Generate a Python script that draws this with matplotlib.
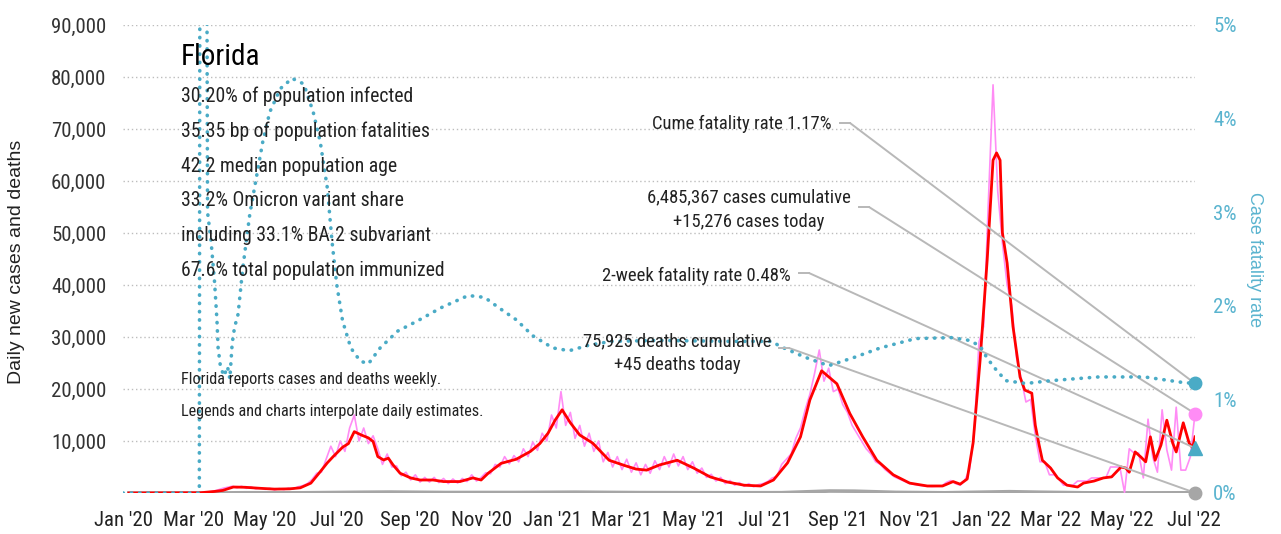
#!/usr/bin/env python3
"""Florida: daily new cases, deaths and case fatality rate, Jan 2020 - Jul 2022.

Left axis: daily cases (pink, reported) with the 7-day average (red) and
daily deaths (gray). Right axis: case fatality rate (blue dotted).
"""
import matplotlib
matplotlib.use("Agg")
import matplotlib.pyplot as plt
import matplotlib.dates as mdates
import pandas as pd
from matplotlib import font_manager
from matplotlib.font_manager import FontProperties
from matplotlib.lines import Line2D
from matplotlib.ticker import FuncFormatter

W, H, DPI = 1281, 534, 100

# 7-day average of new cases (red)
AVG_DATES = [
    "2020-01-06", "2020-03-07", "2020-03-19", "2020-03-26", "2020-04-04",
    "2020-04-14", "2020-04-27", "2020-05-09", "2020-05-22", "2020-05-31",
    "2020-06-09", "2020-06-17", "2020-06-23", "2020-06-28", "2020-07-06",
    "2020-07-11", "2020-07-16", "2020-07-22", "2020-07-28", "2020-08-01",
    "2020-08-05", "2020-08-10", "2020-08-14", "2020-08-18", "2020-08-24",
    "2020-09-02", "2020-09-10", "2020-09-21", "2020-09-30", "2020-10-14",
    "2020-10-25", "2020-11-01", "2020-11-07", "2020-11-18", "2020-12-01",
    "2020-12-13", "2020-12-21", "2020-12-28", "2021-01-03", "2021-01-09",
    "2021-01-16", "2021-01-24", "2021-02-04", "2021-02-18", "2021-03-03",
    "2021-03-13", "2021-03-22", "2021-04-02", "2021-04-17", "2021-05-01",
    "2021-05-15", "2021-05-30", "2021-06-13", "2021-06-27", "2021-07-08",
    "2021-07-20", "2021-07-31", "2021-08-08", "2021-08-18", "2021-08-31",
    "2021-09-11", "2021-09-22", "2021-10-04", "2021-10-18", "2021-11-01",
    "2021-11-16", "2021-11-29", "2021-12-08", "2021-12-14", "2021-12-20",
    "2021-12-25", "2021-12-31", "2022-01-06", "2022-01-11", "2022-01-14",
    "2022-01-17", "2022-01-19", "2022-01-23", "2022-01-28", "2022-02-03",
    "2022-02-07", "2022-02-13", "2022-02-16", "2022-02-19", "2022-02-22",
    "2022-03-01", "2022-03-07", "2022-03-15", "2022-03-24", "2022-03-29",
    "2022-04-07", "2022-04-15", "2022-04-22", "2022-04-30", "2022-05-04",
    "2022-05-07", "2022-05-12", "2022-05-17", "2022-05-21", "2022-05-25",
    "2022-05-29", "2022-06-03", "2022-06-08", "2022-06-13", "2022-06-16",
    "2022-06-22", "2022-06-27", "2022-06-30", "2022-07-02",
]
AVG_CASES = [
    0, 50, 300, 500, 1150,
    1100, 900, 750, 800, 1000,
    1900, 4100, 5800, 7000, 8800,
    9500, 11800, 11150, 10600, 9900,
    7000, 6350, 6700, 5400, 3800,
    2900, 2500, 2500, 2200, 2200,
    2900, 2500, 3800, 5700, 6500,
    8000, 9500, 11500, 14000, 16000,
    13500, 11150, 9600, 6300, 5300,
    4600, 4400, 5400, 6300, 4800,
    3100, 2100, 1500, 1350, 2500,
    5800, 10800, 17900, 23500, 21000,
    15300, 10800, 6300, 3500, 1900,
    1350, 1350, 2200, 1700, 2700,
    9600, 25600, 44800, 64000, 65400,
    64000, 50000, 44200, 32000, 22300,
    19800, 19200, 13000, 9500, 6300,
    4800, 2900, 1500, 1150, 1900,
    2300, 2900, 3100, 5000, 4800,
    4000, 7900, 6900, 6000, 10800,
    6300, 9200, 14000, 9600, 7900,
    13500, 9600, 8700, 10800,
]

# daily reported cases (pink), one value every 4 days up to the last report
DAILY_END = "2022-07-02"
DAILY_CASES = [
    0, 30, 100, 200, 350, 600, 900, 1100,                     # Mar '20
    1300, 1000, 1300, 900, 1200, 800, 1000,                   # Apr
    700, 900, 600, 850, 650, 950, 750, 1200,                  # May
    1400, 1800, 2600, 3800, 4000, 6500, 9000,                 # Jun
    7000, 10000, 8000, 12500, 15000, 10000, 12500, 9500,      # Jul
    11000, 8500, 5500, 7500, 5000, 5200, 3300, 4000,          # Aug
    2500, 3500, 2100, 3000, 2100, 3000, 2000,                 # Sep
    2800, 1800, 2700, 1900, 2800, 2200, 3500, 2300,           # Oct
    3000, 3900, 3700, 5500, 5000, 7000, 5600,                 # Nov
    7200, 6000, 8500, 7000, 9800, 8200, 11500, 10000,         # Dec
    15000, 12500, 19500, 13000, 15500, 10500, 13000, 9000,    # Jan '21
    11500, 8000, 10000, 6000, 7800, 5000, 7000,               # Feb
    4500, 6500, 4000, 5800, 3500, 5500, 3800, 6200,           # Mar
    4500, 7000, 5000, 7500, 5200, 7000, 4500, 6000,           # Apr
    3800, 4800, 3000, 3600, 2300, 3000, 1800,                 # May
    2400, 1500, 2000, 1300, 1800, 1200, 1600, 1800,           # Jun
    2200, 2900, 3200, 5500, 6500, 7500, 10500, 12500,         # Jul
    16000, 19000, 23000, 27500, 21500, 24000, 19500,          # Aug
    20000, 17000, 15500, 13000, 11500, 10000, 8500, 7500,     # Sep
    6000, 5500, 4500, 3800, 3100, 2700, 2300, 1900,           # Oct
    1700, 1500, 1400, 1300, 1250, 1300, 1300,                 # Nov
    2000, 2400, 1800, 1500, 2500, 4500, 12000, 29000,         # Dec
    32000, 56000, 78500, 58000, 48000, 40000, 36000, 26000,   # Jan '22
    22000, 17500, 18000, 11000, 6000, 6000, 3500,             # Feb
    3500, 2700, 1500, 1500, 1500, 2300, 2300, 2300,           # Mar
    2900, 2900, 2900, 2900, 5000, 5000, 5000, 100,            # Apr
    8500, 7700, 7700, 2900, 14200, 6900, 4000,                # May
    16000, 8300, 4400, 16500, 4400, 4400, 6900, 15276,        # Jun
]

# daily deaths (gray)
DEATH_DATES = [
    "2020-01-06", "2020-03-15", "2020-04-15", "2020-06-01", "2020-07-25",
    "2020-08-15", "2020-10-01", "2020-12-01", "2021-01-20", "2021-03-15",
    "2021-06-01", "2021-07-15", "2021-08-25", "2021-09-15", "2021-10-20",
    "2021-12-01", "2022-01-25", "2022-02-20", "2022-03-30", "2022-05-15",
    "2022-07-02",
]
DEATHS = [
    0, 5, 50, 40, 150,
    180, 100, 100, 160, 80,
    50, 60, 380, 350, 120,
    40, 250, 150, 40, 20,
    45,
]

# case fatality rate, % (blue dotted, right axis)
CFR_DATES = [
    "2020-01-01", "2020-03-06", "2020-03-07", "2020-03-11", "2020-03-13",
    "2020-03-16", "2020-03-19", "2020-03-21", "2020-03-22", "2020-03-24",
    "2020-03-27", "2020-03-30", "2020-04-01", "2020-04-03", "2020-04-05",
    "2020-04-08", "2020-04-12", "2020-04-18", "2020-04-24", "2020-04-29",
    "2020-05-05", "2020-05-14", "2020-05-24", "2020-06-03", "2020-06-11",
    "2020-06-17", "2020-06-23", "2020-06-27", "2020-07-01", "2020-07-06",
    "2020-07-13", "2020-07-21", "2020-07-28", "2020-08-07", "2020-08-22",
    "2020-09-08", "2020-09-28", "2020-10-21", "2020-11-04", "2020-11-16",
    "2020-12-01", "2020-12-15", "2021-01-01", "2021-01-15", "2021-02-01",
    "2021-02-20", "2021-04-01", "2021-06-01", "2021-07-07", "2021-07-13",
    "2021-08-04", "2021-08-24", "2021-09-15", "2021-10-07", "2021-11-06",
    "2021-12-07", "2021-12-22", "2021-12-31", "2022-01-06", "2022-01-14",
    "2022-01-22", "2022-02-08", "2022-03-01", "2022-04-11", "2022-05-20",
    "2022-06-22", "2022-07-02",
]
CFR_PCT = [
    0.0, 0.0, 12.0, 12.0, 3.0,
    2.69, 2.25, 1.85, 1.55, 1.35,
    1.25, 1.35, 1.22, 1.6, 1.77,
    1.91, 2.4, 2.98, 3.4, 3.75,
    4.07, 4.32, 4.43, 4.37, 4.07,
    3.75, 3.26, 2.69, 2.23, 1.84,
    1.55, 1.41, 1.38, 1.55, 1.73,
    1.84, 1.98, 2.11, 2.09, 1.98,
    1.85, 1.68, 1.55, 1.52, 1.58,
    1.62, 1.63, 1.62, 1.62, 1.57,
    1.45, 1.36, 1.45, 1.55, 1.65,
    1.66, 1.63, 1.57, 1.44, 1.31,
    1.2, 1.17, 1.2, 1.24, 1.24,
    1.18, 1.17,
]

# latest readings shown in the callouts
CUME_CFR = 1.17
TWO_WEEK_CFR = 0.48
CASES_CUMULATIVE = 6485367
TODAY_CASES = 15276
DEATHS_CUMULATIVE = 75925
TODAY_DEATHS = 45

STATE = "Florida"
FACTS = [
    "30.20% of population infected",
    "35.35 bp of population fatalities",
    "42.2 median population age",
    "33.2% Omicron variant share",
    "including 33.1% BA.2 subvariant",
    "67.6% total population immunized",
]
NOTES = [
    "Florida reports cases and deaths weekly.",
    "Legends and charts interpolate daily estimates.",
]

RED = "#ff0000"
PINK = "#ff8cf5"
GRAY = "#a6a6a6"
BLUE = "#4aabc6"
BLUE_TXT = "#5ab4cf"
LEADER = "#b8b8b8"
INK = "#222222"


def narrow_font():
    """Find a condensed regular sans face; fall back to DejaVu Sans."""
    faces = font_manager.fontManager.ttflist
    squeezed = ("condensed", "semi-condensed", "extra-condensed", "ultra-condensed")
    prefs = [
        ("Liberation Sans Narrow", None), ("Roboto Condensed", None),
        ("Open Sans Condensed", None), ("Noto Sans", "condensed"),
        ("DejaVu Sans", "condensed"), ("Open Sans", "condensed"),
        ("Roboto", "condensed"), ("Noto Sans", "semi-condensed"),
        ("DejaVu Sans", "semi-condensed"),
    ]
    for name, stretch in prefs:
        for f in faces:
            if f.name != name or f.style != "normal":
                continue
            if f.weight not in (400, "normal", "regular", "book"):
                continue
            if stretch is None or f.stretch == stretch:
                return FontProperties(fname=f.fname), True
    for f in faces:
        if f.stretch in squeezed and f.style == "normal" and f.weight in (400, "normal"):
            return FontProperties(fname=f.fname), True
    return FontProperties(family="DejaVu Sans"), False


NARROW, HAVE_NARROW = narrow_font()
PLAIN = FontProperties(family=["Liberation Sans", "DejaVu Sans"])


def fxy(x, y):
    """Pixel position (from top-left) -> figure fraction."""
    return x / W, 1 - y / H


def ftext(fig, x, y, s, size, **kw):
    fp = NARROW.copy()
    fp.set_size(size if HAVE_NARROW else size * 0.8)
    return fig.text(*fxy(x, y), s, fontproperties=fp, **kw)


def leader(fig, ax, xy, start, stub=10):
    """Short horizontal stub from the label, then a straight line to the marker."""
    x0, y0 = start
    fig.add_artist(Line2D([x0 / W, (x0 + stub) / W], [1 - y0 / H] * 2,
                          color=LEADER, lw=1.4))
    ax.annotate("", xy=xy, xycoords="data",
                xytext=(x0 + stub, H - y0), textcoords="figure pixels",
                annotation_clip=False,
                arrowprops=dict(arrowstyle="-", color=LEADER, lw=1.4,
                                shrinkA=0, shrinkB=0))


def main() -> None:
    avg_dates = pd.to_datetime(AVG_DATES)
    daily_dates = pd.date_range(end=DAILY_END, periods=len(DAILY_CASES), freq="4D")
    death_dates = pd.to_datetime(DEATH_DATES)
    cfr_dates = pd.to_datetime(CFR_DATES)
    last = pd.Timestamp(DAILY_END)
    xlast = mdates.date2num(last)

    fig = plt.figure(figsize=(W / DPI, H / DPI), dpi=DPI)
    ax = fig.add_axes([123 / W, 41 / H, 1072 / W, 468 / H])
    ax2 = ax.twinx()

    ax.plot(death_dates, DEATHS, color=GRAY, lw=2.6, zorder=2)
    ax.plot(daily_dates, DAILY_CASES, color=PINK, lw=1.2, zorder=3)
    ax.plot(avg_dates, AVG_CASES, color=RED, lw=2.0, zorder=4)
    ax2.plot(cfr_dates, CFR_PCT, color=BLUE, lw=2.6,
             linestyle=(0, (0.1, 2.2)), dash_capstyle="round", zorder=5)

    ax.set_xlim(mdates.date2num(pd.Timestamp("2020-01-01")), xlast)
    ax.set_ylim(0, 90000)
    ax2.set_ylim(0, 5)

    ax.set_yticks(range(10000, 90001, 10000))
    ax.yaxis.set_major_formatter(FuncFormatter(lambda v, _: f"{v:,.0f}"))
    ax2.set_yticks(range(0, 6))
    ax2.yaxis.set_major_formatter(FuncFormatter(lambda v, _: f"{v:.0f}%"))
    ax.xaxis.set_major_locator(mdates.MonthLocator(bymonth=[1, 3, 5, 7, 9, 11]))
    ax.xaxis.set_major_formatter(mdates.DateFormatter("%b '%y"))

    ax.yaxis.grid(True, linestyle=(0, (1, 2)), color="#bdbdbd", lw=1)
    ax.set_axisbelow(True)
    for a in (ax, ax2):
        for s in a.spines.values():
            s.set_visible(False)
    ax.tick_params(axis="y", length=0, pad=12, labelcolor="#333333")
    ax.tick_params(axis="x", length=0, pad=13, labelcolor=INK)
    ax2.tick_params(axis="y", length=0, pad=13, labelcolor=BLUE_TXT)
    tick_fp = NARROW.copy()
    tick_fp.set_size(15 if HAVE_NARROW else 12)
    for lab in ax.get_xticklabels() + ax.get_yticklabels() + ax2.get_yticklabels():
        lab.set_fontproperties(tick_fp)

    lab_fp = PLAIN.copy()
    lab_fp.set_size(14)
    fig.text(*fxy(17, 262), "Daily new cases and deaths", rotation=90,
             ha="center", va="center", fontproperties=lab_fp, color=INK)
    lab_fp = PLAIN.copy()
    lab_fp.set_size(13)
    fig.text(*fxy(1254, 260), "Case fatality rate", rotation=270,
             ha="center", va="center", fontproperties=lab_fp, color=BLUE_TXT)

    # state summary block
    ftext(fig, 181, 65, STATE, 21, color="black", va="baseline")
    for i, line in enumerate(FACTS):
        ftext(fig, 181, 102 + 34.8 * i, line, 14.2, color=INK, va="baseline")
    for i, line in enumerate(NOTES):
        ftext(fig, 181, 384 + 32 * i, line, 11.7, color=INK, va="baseline")

    # callouts for the latest values
    kw = dict(color=INK, va="baseline")
    size = 13.4
    ftext(fig, 832, 129, f"Cume fatality rate {CUME_CFR:.2f}%", size, ha="right", **kw)
    ftext(fig, 749, 202, f"{CASES_CUMULATIVE:,} cases cumulative", size, ha="center", **kw)
    ftext(fig, 749, 227, f"+{TODAY_CASES:,} cases today", size, ha="center", **kw)
    ftext(fig, 791, 281, f"2-week fatality rate {TWO_WEEK_CFR:.2f}%", size, ha="right", **kw)
    ftext(fig, 677, 346, f"{DEATHS_CUMULATIVE:,} deaths cumulative", size, ha="center", **kw)
    ftext(fig, 677, 370, f"+{TODAY_DEATHS} deaths today", size, ha="center", **kw)

    # put the left-axis readings into right-axis units so every marker sits on ax2
    to_pct = ax.transData + ax2.transData.inverted()
    cases_pt = to_pct.transform((xlast, TODAY_CASES))
    deaths_pt = to_pct.transform((xlast, TODAY_DEATHS))
    leader(fig, ax2, (xlast, CUME_CFR), (840, 123))
    leader(fig, ax2, tuple(cases_pt), (859, 207))
    leader(fig, ax2, (xlast, TWO_WEEK_CFR), (799, 273))
    leader(fig, ax2, tuple(deaths_pt), (779, 348))

    mk = dict(clip_on=False, zorder=10, linestyle="none")
    ax2.plot([xlast], [CUME_CFR], marker="o", ms=9, color=BLUE, **mk)
    ax2.plot([cases_pt[0]], [cases_pt[1]], marker="o", ms=9, color=PINK, **mk)
    ax2.plot([xlast], [TWO_WEEK_CFR], marker="^", ms=10, color=BLUE, **mk)
    ax2.plot([deaths_pt[0]], [deaths_pt[1]], marker="o", ms=9, color=GRAY, **mk)

    fig.savefig("out.png", dpi=DPI)


if __name__ == "__main__":
    main()
